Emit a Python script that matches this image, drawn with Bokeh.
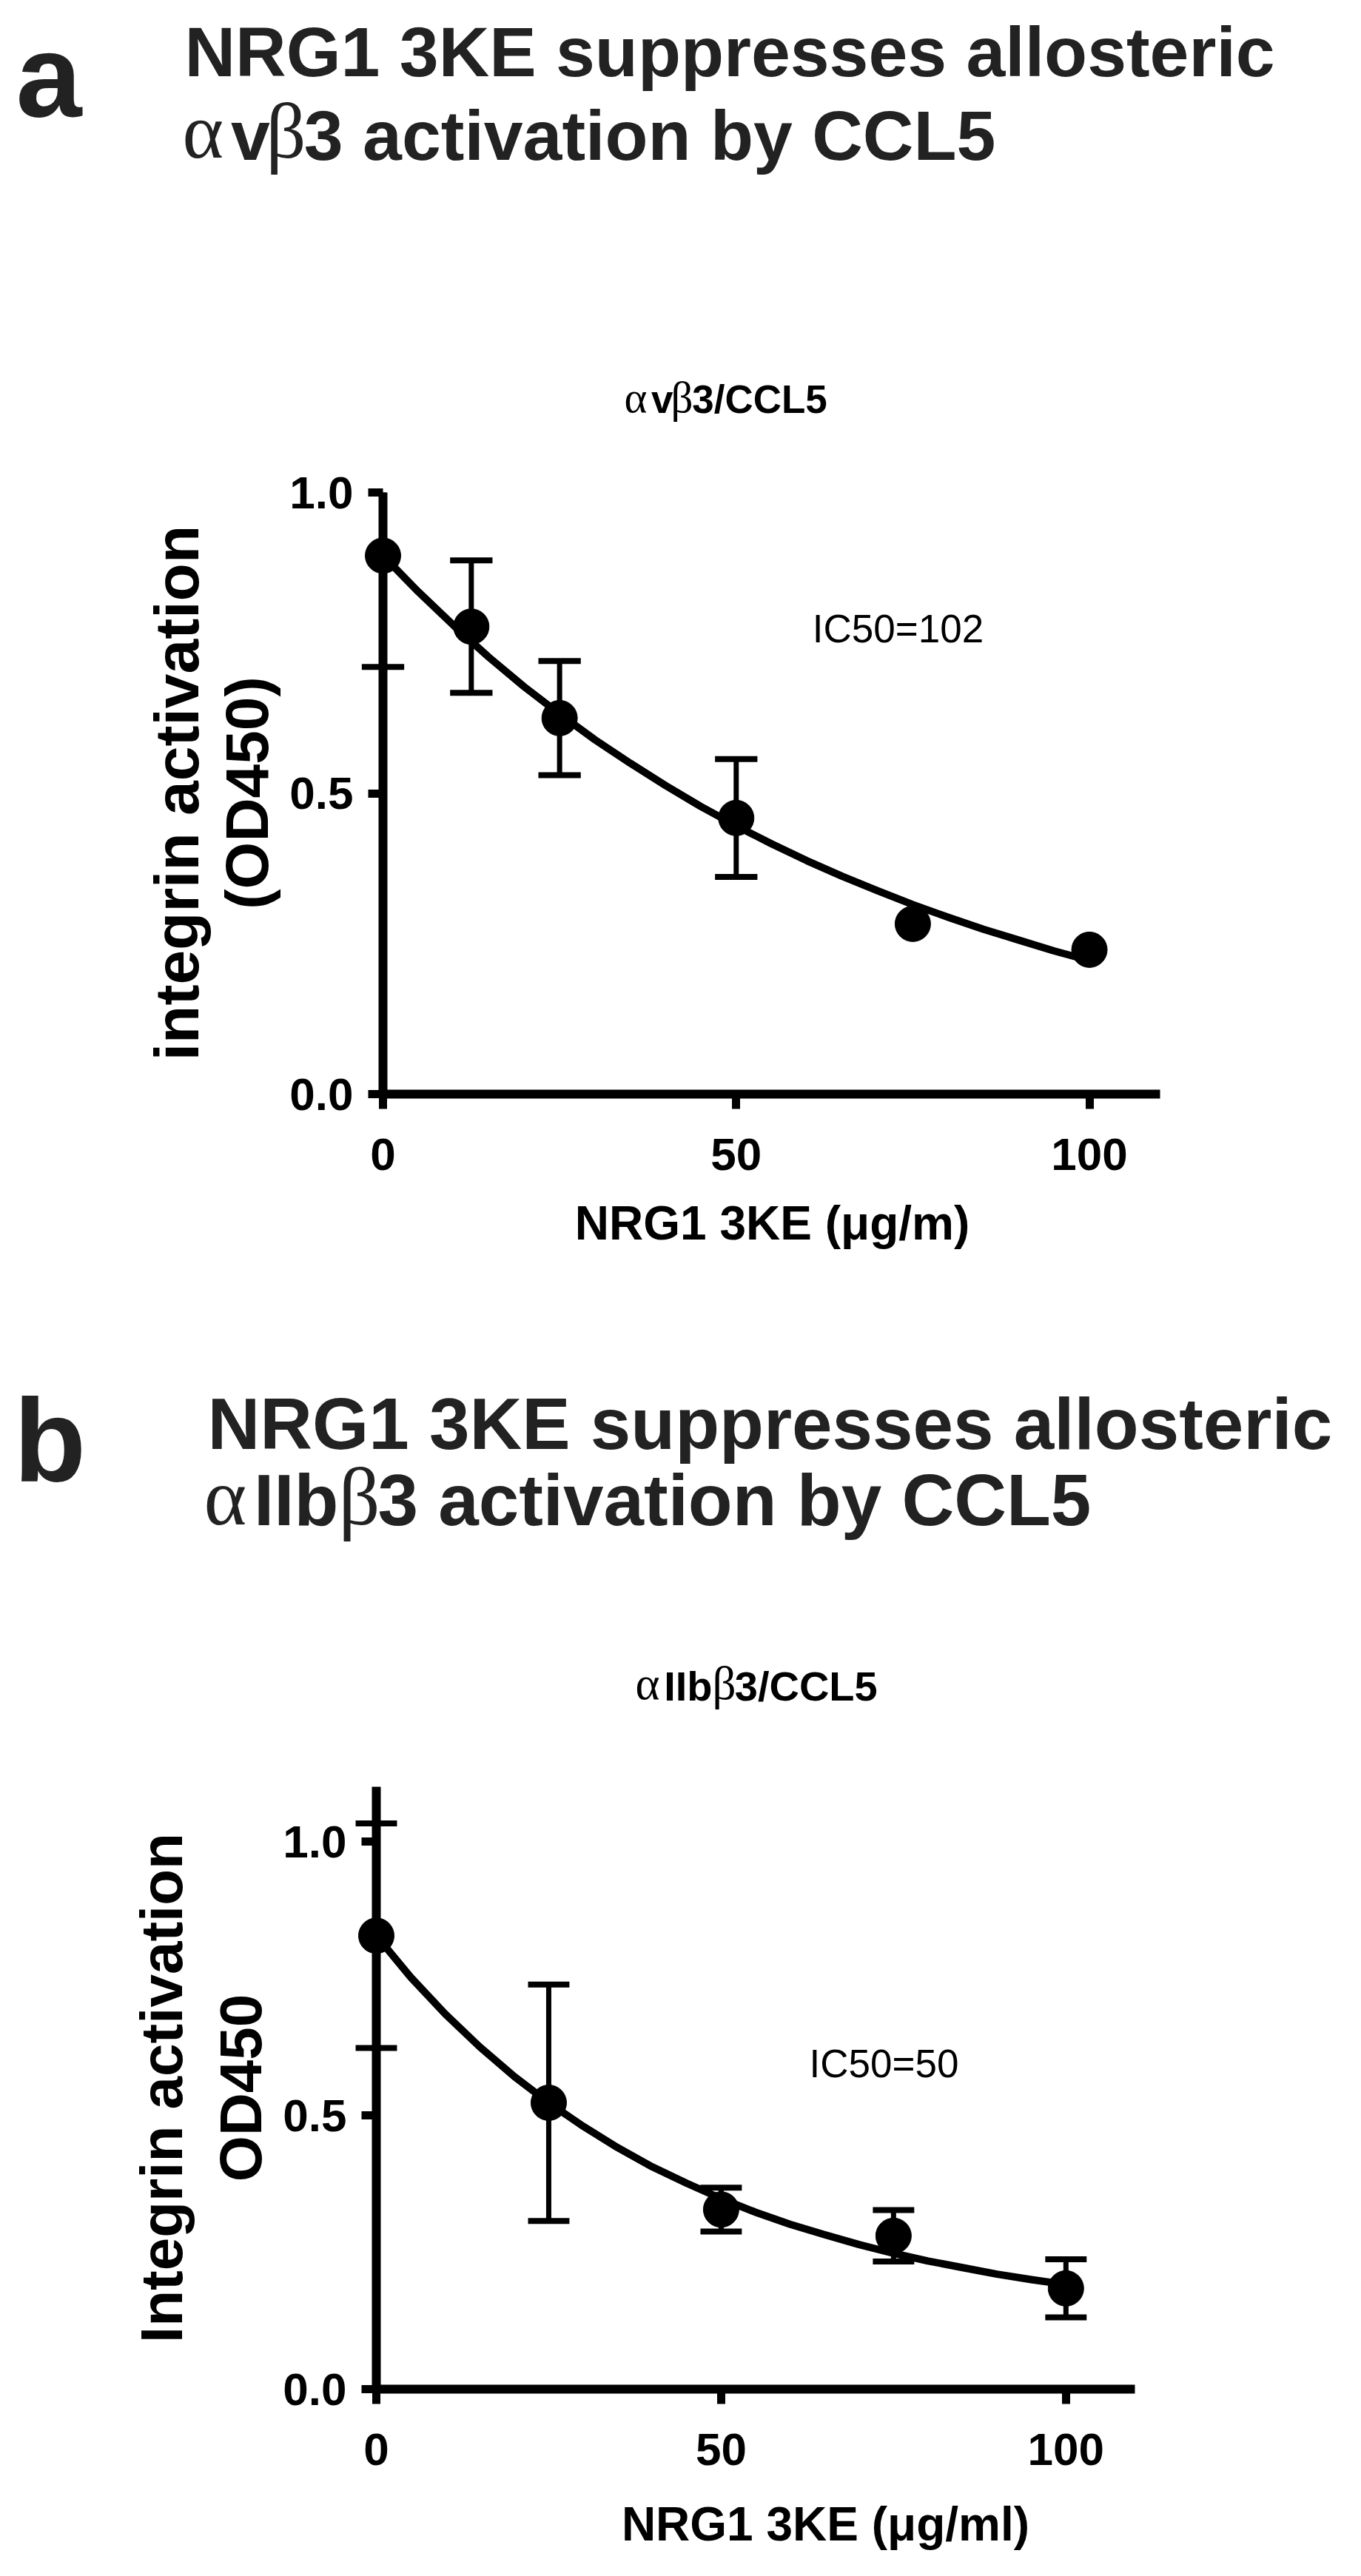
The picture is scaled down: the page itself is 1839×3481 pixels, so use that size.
import math
from bokeh.plotting import figure
from bokeh.models import Range1d, FixedTicker, PrintfTickFormatter
from bokeh.core.properties import value
from bokeh.layouts import column
from bokeh.embed import file_html
from bokeh.resources import INLINE

# ---------------- data: panel a (avb3 / CCL5) ----------------
a_dose = [0, 12.5, 25, 50, 75, 100]
a_mean = [0.895, 0.777, 0.625, 0.459, 0.283, 0.240]
a_err = [0.185, 0.110, 0.095, 0.098, 0.0, 0.0]
a_fit_dose = [0, 5, 10, 15, 20, 25, 30, 35, 40, 45, 50, 55, 60, 65, 70, 75, 80, 85, 90, 95, 100]
a_fit_od = [0.895, 0.835, 0.779, 0.726, 0.677, 0.632, 0.589, 0.550, 0.513, 0.478, 0.446,
            0.416, 0.388, 0.362, 0.338, 0.315, 0.294, 0.274, 0.256, 0.238, 0.222]
a_xticks = [0, 50, 100]
a_yticks = [0.0, 0.5, 1.0]

# ---------------- data: panel b (aIIbb3 / CCL5) ----------------
b_dose = [0, 25, 50, 75, 100]
b_mean = [0.828, 0.523, 0.328, 0.280, 0.184]
b_err = [0.205, 0.216, 0.040, 0.047, 0.053]
b_fit_dose = [0, 5, 10, 15, 20, 25, 30, 35, 40, 45, 50, 55, 60, 65, 70, 75, 80, 85, 90, 95, 100]
b_fit_od = [0.828, 0.752, 0.685, 0.625, 0.571, 0.523, 0.480, 0.441, 0.406, 0.376, 0.348,
            0.323, 0.301, 0.282, 0.264, 0.248, 0.234, 0.222, 0.210, 0.200, 0.191]
b_xticks = [0, 50, 100]
b_yticks = [0.0, 0.5, 1.0]

SANS = "Liberation Sans"
SERIF = "Liberation Serif"
CAP = 3.0      # half width of error-bar caps, in dose units
KBASE = 0.40   # measured offset of the rendered baseline, in em
PAGE_W = 1830


def make_fig(height, left, right, top, bottom, xend, yend, xticks, yticks):
    p = figure(width=PAGE_W, height=height, x_range=Range1d(0, xend), y_range=Range1d(0, yend),
               output_backend="svg", toolbar_location=None,
               min_border_left=left, min_border_right=right,
               min_border_top=top, min_border_bottom=bottom)
    try:
        p.frame_align = False
    except Exception:
        pass
    p.outline_line_color = None
    p.xgrid.visible = False
    p.ygrid.visible = False
    p.background_fill_color = "white"
    p.border_fill_color = "white"
    p.xaxis.ticker = FixedTicker(ticks=xticks)
    p.yaxis.ticker = FixedTicker(ticks=yticks)
    p.yaxis.formatter = PrintfTickFormatter(format="%.1f")
    for ax in (p.xaxis[0], p.yaxis[0]):
        ax.axis_line_width = 12
        ax.axis_line_color = "black"
        ax.major_tick_line_width = 11
        ax.major_tick_line_color = "black"
        ax.major_tick_out = 20
        ax.major_tick_in = 0
        ax.minor_tick_line_color = None
        ax.major_label_text_font = SANS
        ax.major_label_text_font_style = "bold"
        ax.major_label_text_font_size = "62px"
        ax.major_label_text_color = "black"
    p.xaxis.major_label_standoff = 40
    p.yaxis.major_label_standoff = 20
    return p


def put(p, geo, X, Y, text, size, font=SANS, style="bold", align="left", angle=0.0,
        color="black"):
    # geo: page-pixel position of the data origin and pixels per data unit of this panel;
    # (X, Y) is the wanted baseline anchor in page pixels
    x0, sx, y0, sy = geo
    X = X - KBASE * size * math.sin(angle)
    Y = Y - KBASE * size * math.cos(angle)
    p.text(x=[(X - x0) / sx], y=[(y0 - Y) / sy], text=[text],
           text_font=value(font), text_font_style=style, text_font_size=value(f"{size:.0f}px"),
           text_align=align, text_baseline="alphabetic", angle=angle,
           text_color=color, level="overlay")


def mixed(p, geo, X, Y, pieces, size, color="black"):
    # pieces: (text, is_greek, offset in em)
    for text, greek, off in pieces:
        if greek:
            put(p, geo, X + off * size, Y, text, size * 1.12, font=SERIF, style="normal",
                color=color)
        else:
            put(p, geo, X + off * size, Y, text, size, color=color)


def draw_data(p, dose, mean, err, fit_x, fit_y, ytop):
    p.line(fit_x, fit_y, line_width=10, color="black", line_join="round", level="overlay")
    vx, vy0, vy1, cx0, cx1, cy = [], [], [], [], [], []
    for x, y, e in zip(dose, mean, err):
        if e <= 0:
            continue
        lo, hi = y - e, y + e
        vx.append(x); vy0.append(lo); vy1.append(min(hi, ytop))
        cx0.append(x - CAP); cx1.append(x + CAP); cy.append(lo)
        if hi <= ytop:
            cx0.append(x - CAP); cx1.append(x + CAP); cy.append(hi)
    p.segment(x0=vx, y0=vy0, x1=vx, y1=vy1, line_width=7, color="black", level="overlay")
    p.segment(x0=cx0, y0=cy, x1=cx1, y1=cy, line_width=8, color="black", level="overlay")
    p.scatter(dose, mean, size=48, marker="circle", color="black", level="overlay")


GREEK_V = [("\u03b1", True, 0.0), ("v", False, 0.69), ("\u03b2", True, 1.19)]
GREEK_IIB = [("\u03b1", True, 0.0), ("IIb", False, 0.69), ("\u03b2", True, 1.857)]

# ---------------- panel a (page rows 0..1790) ----------------
pa = make_fig(1790, 517, PAGE_W - 1567, 665, 1790 - 1478, 110, 1.0, a_xticks, a_yticks)
draw_data(pa, a_dose, a_mean, a_err, a_fit_dose, a_fit_od, 1.0)
GA = (517, 1050 / 110, 1478, 813 / 1.0)
put(pa, GA, 21, 165, "a", 160, color="#222222")
put(pa, GA, 249, 107, "NRG1 3KE suppresses allosteric", 95, color="#222222")
mixed(pa, GA, 246, 220, GREEK_V + [("3 activation by CCL5", False, 1.73)], 95, color="#222222")
mixed(pa, GA, 843, 560, GREEK_V + [("3/CCL5", False, 1.73)], 53)
put(pa, GA, 1213, 870, "IC50=102", 53, style="normal", align="center")
put(pa, GA, 1043, 1678, "NRG1 3KE (\u03bcg/m)", 64, align="center")
put(pa, GA, 272, 1071, "integrin activation", 84, align="center", angle=math.pi / 2)
put(pa, GA, 366, 1071, "(OD450)", 82, align="center", angle=math.pi / 2)

# ---------------- panel b (page rows 1790..3473) ----------------
pb = make_fig(1683, 508, PAGE_W - 1533, 2414 - 1790, 3473 - 3228, 110, 1.1, b_xticks, b_yticks)
draw_data(pb, b_dose, b_mean, b_err, b_fit_dose, b_fit_od, 1.1)
GB = (508, 1025 / 110, 3228, 814 / 1.1)
put(pb, GB, 18, 2010, "b", 160, color="#222222")
put(pb, GB, 280, 1963, "NRG1 3KE suppresses allosteric", 98, color="#222222")
mixed(pb, GB, 275, 2066, GREEK_IIB + [("3 activation by CCL5", False, 2.397)], 98,
      color="#222222")
mixed(pb, GB, 858, 2300, GREEK_IIB + [("3/CCL5", False, 2.397)], 56)
put(pb, GB, 1194, 2809, "IC50=50", 53, style="normal", align="center")
put(pb, GB, 1115, 3436, "NRG1 3KE (\u03bcg/ml)", 64, align="center")
put(pb, GB, 250, 2821, "Integrin activation", 80, align="center", angle=math.pi / 2)
put(pb, GB, 357, 2821, "OD450", 80, align="center", angle=math.pi / 2)

layout = column(pa, pb)
open("out.html", "w").write(file_html(layout, INLINE))
